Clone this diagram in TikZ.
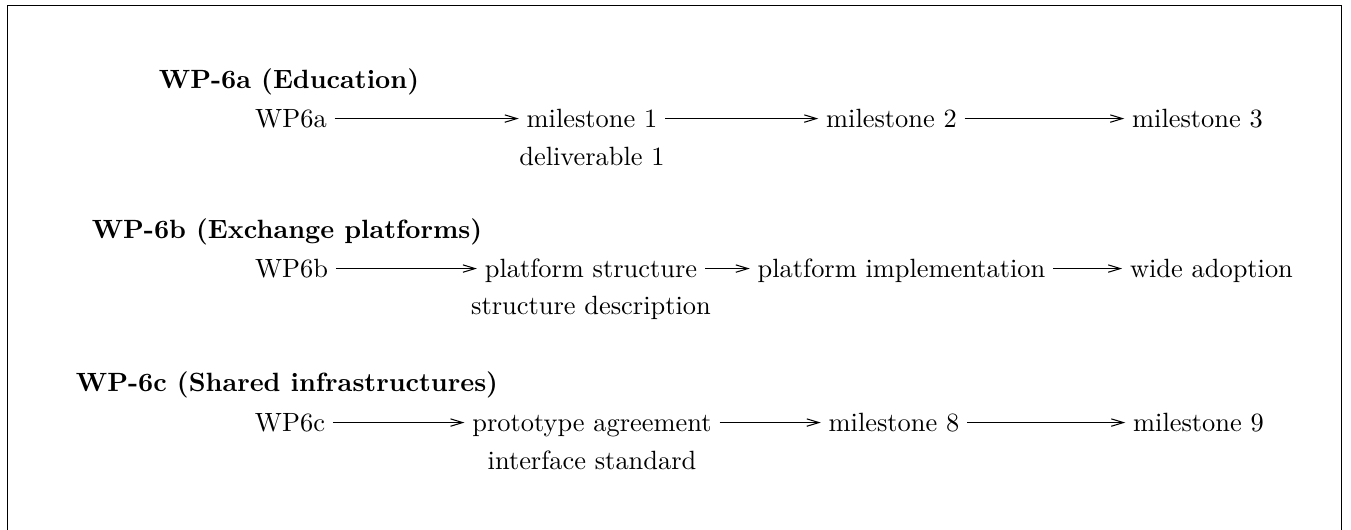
\documentclass[tikz,border=0pt]{standalone}
\usetikzlibrary{arrows.meta}
\begin{document}
\begin{tikzpicture}[x=0.3788pt,y=-0.3788pt,
  lbl/.style={anchor=base, inner sep=2.8pt},
  head/.style={anchor=base, font=\bfseries, inner sep=2.8pt},
  flow/.style={-{Straight Barb[length=4.6pt,width=2.8pt]}, line width=0.4pt},
  frame/.style={line width=0.5pt}]
\useasboundingbox (0,0) rectangle (1351,529);
\draw[frame] (7.3,5.7) rectangle (1341.7,620);

% WP-6a
\node[head] (ha) at (289,88) {WP-6a (Education)};
\node[lbl] (a0) at (291,127) {WP6a};
\node[lbl] (a1) at (592,127) {milestone 1};
\node[lbl] (a2) at (891.5,127) {milestone 2};
\node[lbl] (a3) at (1197.5,127) {milestone 3};
\node[lbl] (a1d) at (592,165) {deliverable 1};
\draw[flow] ([yshift=3.2pt]a0.base east) -- ([yshift=3.2pt]a1.base west);
\draw[flow] ([yshift=3.2pt]a1.base east) -- ([yshift=3.2pt]a2.base west);
\draw[flow] ([yshift=3.2pt]a2.base east) -- ([yshift=3.2pt]a3.base west);

% WP-6b
\node[head] (hb) at (287,238) {WP-6b (Exchange platforms)};
\node[lbl] (b0) at (291.5,277) {WP6b};
\node[lbl] (b1) at (591,277) {platform structure};
\node[lbl] (b2) at (901.5,277) {platform implementation};
\node[lbl] (b3) at (1211.5,277) {wide adoption};
\node[lbl] (b1d) at (591,314) {structure description};
\draw[flow] ([yshift=3.2pt]b0.base east) -- ([yshift=3.2pt]b1.base west);
\draw[flow] ([yshift=3.2pt]b1.base east) -- ([yshift=3.2pt]b2.base west);
\draw[flow] ([yshift=3.2pt]b2.base east) -- ([yshift=3.2pt]b3.base west);

% WP-6c
\node[head] (hc) at (287,391) {WP-6c (Shared infrastructures)};
\node[lbl] (c0) at (290,431) {WP6c};
\node[lbl] (c1) at (592,431) {prototype agreement};
\node[lbl] (c2) at (894,431) {milestone 8};
\node[lbl] (c3) at (1198.5,431) {milestone 9};
\node[lbl] (c1d) at (592,469) {interface standard};
\draw[flow] ([yshift=3.2pt]c0.base east) -- ([yshift=3.2pt]c1.base west);
\draw[flow] ([yshift=3.2pt]c1.base east) -- ([yshift=3.2pt]c2.base west);
\draw[flow] ([yshift=3.2pt]c2.base east) -- ([yshift=3.2pt]c3.base west);
\end{tikzpicture}
\end{document}
